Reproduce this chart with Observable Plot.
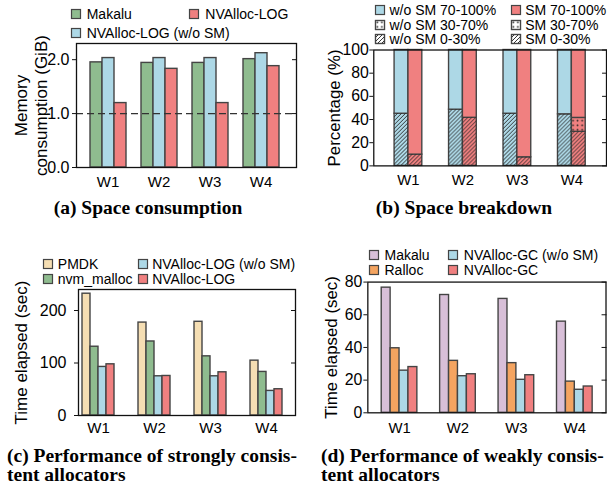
<!DOCTYPE html>
<html><head><meta charset="utf-8">
<script src="https://cdn.jsdelivr.net/npm/d3@7"></script>
<script src="https://cdn.jsdelivr.net/npm/@observablehq/plot@0.6"></script>
<style>
html,body{margin:0;padding:0;background:#fff;overflow:hidden}
#fig{position:relative;width:607px;height:489px;overflow:hidden;font-family:"Liberation Sans",Arial,Helvetica,sans-serif;color:#000;background:#fff}
.layer{position:absolute}
.layer svg{display:block;overflow:visible}
.leg{position:absolute;display:flex;align-items:center;height:14px;font-size:14px;white-space:nowrap;line-height:14px}
.leg svg{display:block;overflow:visible;flex:none}
.cap{position:absolute;font-family:"Liberation Serif","Times New Roman",serif;font-weight:bold;font-size:19.5px;line-height:19px;white-space:nowrap}
</style></head><body>
<svg width="0" height="0" style="position:absolute">
  <defs>
    <pattern id="hatch" patternUnits="userSpaceOnUse" width="4" height="4">
      <path d="M0,4 L4,0 M-1,1 L1,-1 M3,5 L5,3" stroke="#222" stroke-width="0.9"/>
    </pattern>
    <pattern id="dots" patternUnits="userSpaceOnUse" width="4.6" height="4.6">
      <circle cx="2.3" cy="2.3" r="0.9" fill="#222"/>
    </pattern>
  </defs>
</svg>
<div id="fig"></div>
<script>
// ---------- data ----------
const workloads = ["W1", "W2", "W3", "W4"];

// (a) Space consumption (GiB)
const aSeries = ["Makalu", "NVAlloc-LOG (w/o SM)", "NVAlloc-LOG"];
const aColors = ["#8fbc8f", "#add8e6", "#f08080"];
const aMakalu = [1.95, 1.94, 1.94, 2.01];
const aNoSM = [2.03, 2.03, 2.03, 2.12];
const aLog = [1.195, 1.83, 1.195, 1.88];
const aTicks = [0, 1, 2];

// (b) Space breakdown (%)
const bConfigs = ["w/o SM", "SM"];
const bColors = ["#add8e6", "#f08080"];
const bLevels = ["0-30%", "30-70%", "70-100%"];
const bWoSM_0_30 = [45, 48.5, 45, 44.5];
const bWoSM_30_70 = [0, 0, 0, 0];
const bWoSM_70_100 = [55, 51.5, 55, 55.5];
const bSM_0_30 = [9.7, 41.5, 7.4, 29.4];
const bSM_30_70 = [0, 0, 0, 12];
const bSM_70_100 = [90.3, 58.5, 92.6, 58.6];
const bTicks = [0, 20, 40, 60, 80, 100];

// (c) strongly consistent allocators (sec)
const cSeries = ["PMDK", "nvm_malloc", "NVAlloc-LOG (w/o SM)", "NVAlloc-LOG"];
const cColors = ["#f5deb3", "#8fbc8f", "#add8e6", "#f08080"];
const cPMDK = [232, 177, 178.5, 104.5];
const cNvm = [131, 141, 112.7, 83];
const cNoSM = [92.5, 74.7, 74.7, 46.8];
const cLog = [97.5, 75.3, 82.3, 50];
const cTicks = [0, 100, 200];

// (d) weakly consistent allocators (sec)
const dSeries = ["Makalu", "Ralloc", "NVAlloc-GC (w/o SM)", "NVAlloc-GC"];
const dColors = ["#d8bfd8", "#f4a460", "#add8e6", "#f08080"];
const dMakalu = [76.6, 72.1, 69.7, 55.8];
const dRalloc = [39.5, 31.8, 30.4, 19.1];
const dNoSM = [25.8, 22.4, 20.2, 14.1];
const dGC = [28.0, 23.6, 23.0, 16.1];
const dTicks = [0, 20, 40, 60, 80];

// ---------- helpers ----------
const FONT = '"Liberation Sans", Arial, Helvetica, sans-serif';
const fig = document.getElementById("fig");
const EDGE = "#444";

function addLayer(left, top, node) {
  const d = document.createElement("div");
  d.className = "layer";
  d.style.left = left + "px";
  d.style.top = top + "px";
  d.appendChild(node);
  fig.appendChild(d);
}

function tableOf(series, values) {
  const rows = [];
  workloads.forEach((w, i) => series.forEach((s, j) => rows.push({w, s, v: values[j][i]})));
  return rows;
}

function dims(p) {
  return {width: p.width, height: p.height, marginLeft: p.mL, marginRight: p.mR, marginTop: p.mT, marginBottom: p.mB};
}

function overlay(p) {
  const marks = [];
  if (p.rule != null) marks.push(Plot.ruleY([p.rule], {stroke: "#333", strokeWidth: 1.2, strokeDasharray: "7,4"}));
  marks.push(
    Plot.axisY(p.ticks, {anchor: "left", tickSize: 4, tickPadding: p.tickGap, tickFormat: p.tickFormat, label: null, stroke: "#111", fill: "#000", fontSize: 16}),
    Plot.axisY(p.ticks, {anchor: "right", tickSize: -5, tickFormat: () => "", label: null, stroke: "#111"}),
    Plot.text([p.ylabel], {text: d => d, frameAnchor: "left", textAnchor: "middle", lineAnchor: "middle", dx: p.labelDx, rotate: -90, lineHeight: 1.18, fontSize: 17, fill: "#000"}),
    Plot.frame({stroke: "#111", strokeWidth: 1.3})
  );
  return Plot.plot({
    ...dims(p),
    style: {background: "transparent", fontSize: "15px", fontFamily: FONT, overflow: "visible"},
    y: {domain: p.yDomain, axis: null},
    marks
  });
}

function fxAxis(p) {
  return Plot.axisFx({anchor: "bottom", tickSize: 0, tickPadding: p.xPad, label: null, fill: "#000"});
}

function simpleBars(p) {
  return Plot.plot({
    ...dims(p),
    style: {background: "transparent", fontSize: "15px", fontFamily: FONT, overflow: "visible"},
    fx: {domain: workloads, paddingInner: p.pi, paddingOuter: p.po, insetRight: p.insetR || 0, label: null, axis: null},
    x: {domain: p.series, padding: 0, axis: null},
    y: {domain: p.yDomain, axis: null},
    color: {domain: p.series, range: p.colors},
    marks: [
      Plot.barY(p.table, {fx: "w", x: "s", y: "v", fill: "s", stroke: EDGE, strokeWidth: 1.4}),
      fxAxis(p)
    ]
  });
}

function legend(items, gap) {
  for (const it of items) {
    const d = document.createElement("div");
    d.className = "leg";
    d.style.left = it.x + "px";
    d.style.top = (it.y - 7) + "px";
    d.style.gap = gap + "px";
    const ns = "http://www.w3.org/2000/svg";
    const s = document.createElementNS(ns, "svg");
    s.setAttribute("width", "10");
    s.setAttribute("height", "10");
    const base = document.createElementNS(ns, "rect");
    base.setAttribute("x", "0.5"); base.setAttribute("y", "0.5");
    base.setAttribute("width", "9"); base.setAttribute("height", "9");
    base.setAttribute("fill", it.fill);
    base.setAttribute("stroke", EDGE); base.setAttribute("stroke-width", "1.2");
    s.appendChild(base);
    if (it.pattern) {
      const r = document.createElementNS(ns, "rect");
      r.setAttribute("x", "0.5"); r.setAttribute("y", "0.5");
      r.setAttribute("width", "9"); r.setAttribute("height", "9");
      r.setAttribute("fill", it.pattern);
      r.setAttribute("stroke", EDGE); r.setAttribute("stroke-width", "1.2");
      s.appendChild(r);
    }
    const t = document.createElement("span");
    t.textContent = it.label;
    d.appendChild(s);
    d.appendChild(t);
    fig.appendChild(d);
  }
}

function caption(html, css) {
  const d = document.createElement("div");
  d.className = "cap";
  Object.assign(d.style, css);
  d.innerHTML = html;
  fig.appendChild(d);
}

// ---------- panel (a) ----------
const pa = {width: 300, height: 195, mL: 76, mR: 4, mT: 43, mB: 28, pi: 0.283, po: 0.24, insetR: 5,
  series: aSeries, colors: aColors, table: tableOf(aSeries, [aMakalu, aNoSM, aLog]),
  yDomain: [0, 2.3], ticks: aTicks, tickFormat: d3.format(".1f"), tickGap: 3, xPad: 9,
  ylabel: "Memory\nconsumption (GiB)", labelDx: -46, rule: 1};
addLayer(0, 0, simpleBars(pa));
addLayer(0, 0, overlay(pa));
legend([
  {x: 70.7, y: 14, fill: aColors[0], label: aSeries[0]},
  {x: 189.3, y: 14, fill: aColors[2], label: aSeries[2]},
  {x: 70.7, y: 33, fill: aColors[1], label: aSeries[1]}
], 6);

// ---------- panel (b) ----------
const bValues = [[bWoSM_0_30, bWoSM_30_70, bWoSM_70_100], [bSM_0_30, bSM_30_70, bSM_70_100]];
const bPatterns = ["url(#hatch)", "url(#dots)", null];
const bTable = [];
workloads.forEach((w, i) => bConfigs.forEach((c, j) => {
  let acc = 0;
  bLevels.forEach((lv, k) => {
    const v = bValues[j][k][i];
    if (v > 0) bTable.push({w, c, level: lv, y1: acc, y2: acc + v, color: bColors[j], pattern: bPatterns[k]});
    acc += v;
  });
}));
const pb = {width: 310, height: 195, mL: 74, mR: 1, mT: 50, mB: 28, pi: 0.498, po: 0.368,
  yDomain: [0, 100], ticks: bTicks, tickFormat: d3.format("d"), tickGap: 1, xPad: 9,
  ylabel: "Percentage (%)", labelDx: -41};
const barsB = Plot.plot({
  ...dims(pb),
  style: {background: "transparent", fontSize: "15px", fontFamily: FONT, overflow: "visible"},
  fx: {domain: workloads, paddingInner: pb.pi, paddingOuter: pb.po, label: null, axis: null},
  x: {domain: bConfigs, padding: 0, axis: null},
  y: {domain: pb.yDomain, axis: null},
  color: {type: "identity"},
  marks: [
    Plot.barY(bTable, {fx: "w", x: "c", y1: "y1", y2: "y2", fill: "color", stroke: EDGE, strokeWidth: 1.4}),
    Plot.barY(bTable.filter(d => d.pattern), {fx: "w", x: "c", y1: "y1", y2: "y2", fill: "pattern"}),
    fxAxis(pb)
  ]
});
addLayer(300, 0, barsB);
addLayer(300, 0, overlay(pb));
legend([
  {x: 375, y: 10, fill: bColors[0], label: `${bConfigs[0]} ${bLevels[2]}`},
  {x: 510.7, y: 10, fill: bColors[1], label: `${bConfigs[1]} ${bLevels[2]}`},
  {x: 375, y: 24.8, fill: "#fff", pattern: bPatterns[1], label: `${bConfigs[0]} ${bLevels[1]}`},
  {x: 510.7, y: 24.8, fill: "#fff", pattern: bPatterns[1], label: `${bConfigs[1]} ${bLevels[1]}`},
  {x: 375, y: 39.4, fill: "#fff", pattern: bPatterns[0], label: `${bConfigs[0]} ${bLevels[0]}`},
  {x: 510.7, y: 39.4, fill: "#fff", pattern: bPatterns[0], label: `${bConfigs[1]} ${bLevels[0]}`}
], 4.5);

// ---------- panel (c) ----------
const pc = {width: 300, height: 200, mL: 78, mR: 5, mT: 49, mB: 25, pi: 0.393, po: 0.028, insetR: 10,
  series: cSeries, colors: cColors, table: tableOf(cSeries, [cPMDK, cNvm, cNoSM, cLog]),
  yDomain: [0, 240], ticks: cTicks, tickFormat: d3.format("d"), tickGap: 8, xPad: 7,
  ylabel: "Time elapsed (sec)", labelDx: -58};
addLayer(0, 240, simpleBars(pc));
addLayer(0, 240, overlay(pc));
legend([
  {x: 43.3, y: 263.8, fill: cColors[0], label: cSeries[0]},
  {x: 43.3, y: 278.8, fill: cColors[1], label: cSeries[1]},
  {x: 137.7, y: 263.8, fill: cColors[2], label: cSeries[2]},
  {x: 137.7, y: 278.8, fill: cColors[3], label: cSeries[3]}
], 4.5);

// ---------- panel (d) ----------
const pd = {width: 310, height: 200, mL: 68, mR: 1.5, mT: 42, mB: 26, pi: 0.395, po: 0.22,
  series: dSeries, colors: dColors, table: tableOf(dSeries, [dMakalu, dRalloc, dNoSM, dGC]),
  yDomain: [0, 80], ticks: dTicks, tickFormat: d3.format("d"), tickGap: 1.5, xPad: 10,
  ylabel: "Time elapsed (sec)", labelDx: -38};
addLayer(300, 240, simpleBars(pd));
addLayer(300, 240, overlay(pd));
legend([
  {x: 369, y: 254.7, fill: dColors[0], label: dSeries[0]},
  {x: 369, y: 269.7, fill: dColors[1], label: dSeries[1]},
  {x: 448.3, y: 254.7, fill: dColors[2], label: dSeries[2]},
  {x: 448.3, y: 269.7, fill: dColors[3], label: dSeries[3]}
], 5.5);

// ---------- captions ----------
caption("(a) Space consumption", {left: "0px", width: "296px", textAlign: "center", top: "198px"});
caption("(b) Space breakdown", {left: "310px", width: "308px", textAlign: "center", top: "198px"});
caption("(c) Performance of strongly consis-<br>tent allocators", {left: "7px", top: "445.6px"});
caption("(d) Performance of weakly consis-<br>tent allocators", {left: "321px", top: "445.6px"});
</script>
</body></html>
